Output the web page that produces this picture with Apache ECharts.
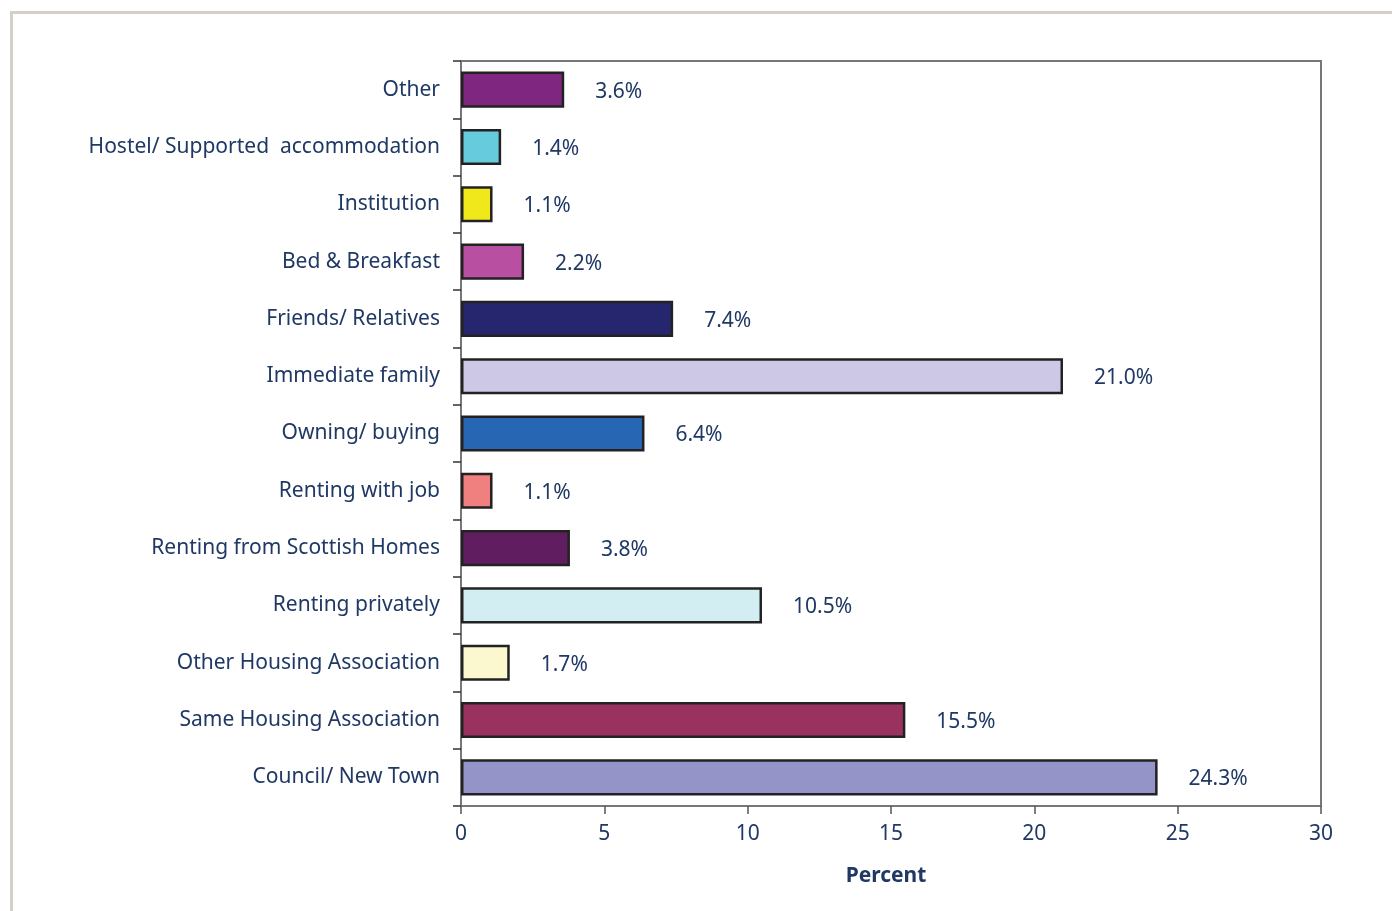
<!DOCTYPE html>
<html>
<head>
<meta charset="utf-8">
<script src="https://cdn.jsdelivr.net/npm/echarts@6/dist/echarts.min.js"></script>
<style>
  html, body { margin: 0; padding: 0; background: #fff; }
  #chart { width: 1392px; height: 911px; }
</style>
</head>
<body>
<div id="chart"></div>
<script>
// categories from bottom to top
const categories = [
  'Council/ New Town',
  'Same Housing Association',
  'Other Housing Association',
  'Renting privately',
  'Renting from Scottish Homes',
  'Renting with job',
  'Owning/ buying',
  'Immediate family',
  'Friends/ Relatives',
  'Bed & Breakfast',
  'Institution',
  'Hostel/ Supported  accommodation',
  'Other'
];
const values = [24.3, 15.5, 1.7, 10.5, 3.8, 1.1, 6.4, 21.0, 7.4, 2.2, 1.1, 1.4, 3.6];
const barColors = [
  '#9494c8', '#99325f', '#fbf8d0', '#d2eef2', '#601e60', '#f07f7f',
  '#2766b2', '#ccc8e6', '#26266e', '#b94fa0', '#f0e81a', '#66ccdd', '#7f2680'
];
const xTicks = [0, 5, 10, 15, 20, 25, 30];

const textColor = '#1f3864';
const font = 'Noto Sans';

const chart = echarts.init(document.getElementById('chart'));
chart.setOption({
  animation: false,
  textStyle: { fontFamily: font },
  graphic: [{
    type: 'rect',
    shape: { x: 11.5, y: 12.5, width: 1420, height: 1000 },
    style: { fill: 'none', stroke: '#d4d0c8', lineWidth: 3 },
    silent: true
  }],
  grid: {
    left: 461,
    top: 61,
    right: 71,
    bottom: 105,
    show: true,
    borderColor: '#777',
    borderWidth: 2,
    backgroundColor: 'transparent'
  },
  xAxis: {
    type: 'value',
    min: xTicks[0],
    max: xTicks[xTicks.length - 1],
    interval: 5,
    name: 'Percent',
    nameLocation: 'middle',
    nameGap: 60,
    nameTextStyle: { color: textColor, fontSize: 21, fontWeight: 'bold', fontFamily: font, padding: [0, 10, 0, 0] },
    axisLine: { show: true, lineStyle: { color: '#777', width: 2 } },
    axisTick: { show: true, length: 8, lineStyle: { color: '#555', width: 1.5 } },
    axisLabel: { color: textColor, fontSize: 21, margin: 18, fontFamily: font },
    splitLine: { show: false }
  },
  yAxis: {
    type: 'category',
    data: categories,
    axisLine: { show: true, lineStyle: { color: '#777', width: 2 } },
    axisTick: { show: true, length: 8, alignWithLabel: false, lineStyle: { color: '#333', width: 1.5 } },
    axisLabel: { color: textColor, fontSize: 21, margin: 21, fontFamily: font },
    splitLine: { show: false }
  },
  series: [{
    type: 'bar',
    barWidth: '63%',
    data: values.map((v, i) => ({
      value: v,
      itemStyle: { color: barColors[i] }
    })),
    itemStyle: { borderColor: '#222', borderWidth: 2.5 },
    label: {
      show: true,
      position: 'right',
      distance: 31,
      offset: [0, 2],
      color: textColor,
      fontSize: 21,
      fontFamily: font,
      formatter: p => p.value.toFixed(1) + '%'
    }
  }]
});
</script>
</body>
</html>
